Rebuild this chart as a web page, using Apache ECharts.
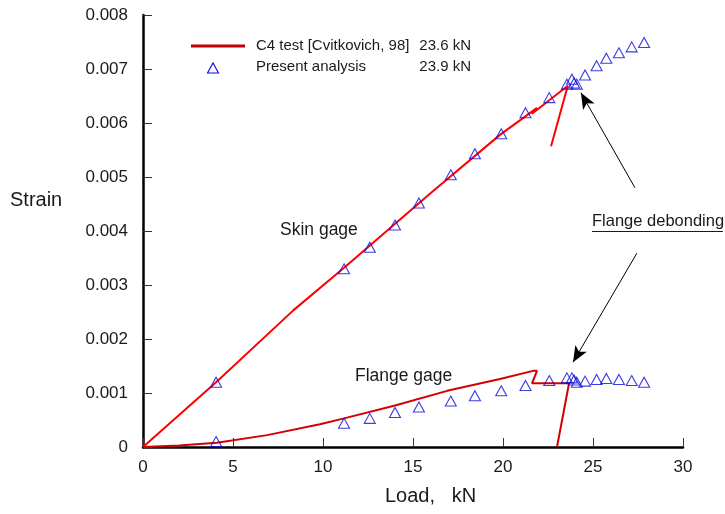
<!DOCTYPE html>
<html>
<head>
<meta charset="utf-8">
<script src="https://cdn.jsdelivr.net/npm/echarts@6/dist/echarts.min.js"></script>
<style>
  html, body { margin: 0; padding: 0; background: #ffffff; }
  #chart { width: 725px; height: 514px; }
</style>
</head>
<body>
<div id="chart"></div>
<script>
// Axis ticks
const loadTicks = [0, 5, 10, 15, 20, 25, 30];
const strainTicks = [0, 0.001, 0.002, 0.003, 0.004, 0.005, 0.006, 0.007, 0.008];

// C4 test [Cvitkovich, 98] - skin gage record
const skinTestLoad   = [0, 4.06, 8.35, 11.17, 15.94, 19.83, 21.89, 21.61, 23.6, 22.67];
const skinTestStrain = [0, 0.0012, 0.00253, 0.00332, 0.00469, 0.00578, 0.00628, 0.00617, 0.00669, 0.00557];

// C4 test [Cvitkovich, 98] - flange gage record
const flangeTestLoad   = [0, 2.0, 4.1, 6.9, 9.83, 11.17, 14.0, 16.9, 19.83, 21.67, 21.89, 21.61, 23.67, 23.0];
const flangeTestStrain = [0, 0.00003, 0.00008, 0.00022, 0.00042, 0.00053, 0.00077, 0.00104, 0.00126, 0.00141, 0.00141, 0.00118, 0.00118, 0];

// Present analysis (23.9 kN)
const analysisLoad   = [4.06, 11.17, 12.6, 14.0, 15.33, 17.1, 18.44, 19.9, 21.25, 22.57, 23.55, 23.83, 23.95, 24.1, 24.56, 25.2, 25.74, 26.44, 27.15, 27.84];
const skinAnalysis   = [0.0012, 0.0033, 0.0037, 0.00411, 0.00452, 0.00504, 0.00543, 0.0058, 0.00619, 0.00647, 0.00672, 0.00681, 0.00674, 0.00672, 0.00689, 0.00706, 0.0072, 0.0073, 0.00741, 0.00749];
const flangeAnalysis = [0.0001, 0.00044, 0.00053, 0.00064, 0.00074, 0.00085, 0.00095, 0.00104, 0.00114, 0.00123, 0.00128, 0.00128, 0.00124, 0.0012, 0.00122, 0.00125, 0.00127, 0.00125, 0.00123, 0.0012];

// Arrow annotations [fromLoad, fromStrain, toLoad, toStrain]
const skinArrow   = [27.33, 0.0048, 24.33, 0.00656];
const flangeArrow = [27.44, 0.00359, 23.89, 0.00157];

const FONT = '"Liberation Sans", Arial, sans-serif';
const TEXT = '#1a1a1a';
const zip = (xs, ys) => xs.map((x, i) => [x, ys[i]]);

const chart = echarts.init(document.getElementById('chart'), null, { renderer: 'canvas' });

const markerStyle = {
  symbol: 'triangle',
  symbolSize: [11, 10],
  itemStyle: { color: 'rgba(0,0,0,0)', borderColor: '#0c0cdc', borderWidth: 1.1 }
};

chart.setOption({
  animation: false,
  backgroundColor: '#ffffff',
  grid: { left: 143, right: 42, top: 15, bottom: 67, outerBoundsMode: 'none', containLabel: false },
  xAxis: {
    type: 'value',
    min: loadTicks[0],
    max: loadTicks[loadTicks.length - 1],
    interval: 5,
    axisLine: { lineStyle: { color: '#000', width: 2.5 } },
    axisTick: { inside: true, length: 9, lineStyle: { color: '#333', width: 1 } },
    axisLabel: { fontFamily: FONT, fontSize: 17, color: TEXT, margin: 12 },
    splitLine: { show: false }
  },
  yAxis: {
    type: 'value',
    min: strainTicks[0],
    max: strainTicks[strainTicks.length - 1],
    interval: 0.001,
    axisLine: { lineStyle: { color: '#000', width: 2.5 } },
    axisTick: { inside: true, length: 9, lineStyle: { color: '#333', width: 1 } },
    axisLabel: {
      fontFamily: FONT, fontSize: 17, color: TEXT, margin: 15,
      formatter: v => (v === 0 ? '0' : v.toFixed(3))
    },
    splitLine: { show: false }
  },
  series: [
    {
      name: 'C4 test skin',
      type: 'line',
      data: zip(skinTestLoad, skinTestStrain),
      showSymbol: false,
      lineStyle: { color: '#ff0000', width: 2 },
      z: 2,
      markLine: {
        silent: true,
        symbol: ['none', 'arrow'],
        symbolSize: [10, 16],
        label: { show: false },
        lineStyle: { color: '#000', width: 1, type: 'solid' },
        itemStyle: { color: '#000' },
        data: [
          [{ coord: [skinArrow[0], skinArrow[1]] }, { coord: [skinArrow[2], skinArrow[3]] }],
          [{ coord: [flangeArrow[0], flangeArrow[1]] }, { coord: [flangeArrow[2], flangeArrow[3]] }]
        ]
      }
    },
    {
      name: 'C4 test flange',
      type: 'line',
      data: zip(flangeTestLoad, flangeTestStrain),
      showSymbol: false,
      lineStyle: { color: '#d40000', width: 2 },
      z: 2
    },
    Object.assign({ name: 'Present analysis skin', type: 'scatter', data: zip(analysisLoad, skinAnalysis), z: 3 }, markerStyle),
    Object.assign({ name: 'Present analysis flange', type: 'scatter', data: zip(analysisLoad, flangeAnalysis), z: 3 }, markerStyle)
  ],
  graphic: [
    // legend
    { type: 'line', shape: { x1: 191, y1: 46, x2: 245, y2: 46 }, style: { stroke: '#c00000', lineWidth: 3 } },
    { type: 'text', left: 256, top: 38, style: { text: 'C4 test [Cvitkovich, 98]', font: '15px ' + FONT, fill: TEXT } },
    { type: 'text', right: 254, top: 38, style: { text: '23.6 kN', font: '15px ' + FONT, fill: TEXT, align: 'right' } },
    { type: 'polygon', shape: { points: [[207.5, 73], [218.5, 73], [213, 63]] }, style: { fill: 'none', stroke: '#0c0cdc', lineWidth: 1.1 } },
    { type: 'text', left: 256, top: 59, style: { text: 'Present analysis', font: '15px ' + FONT, fill: TEXT } },
    { type: 'text', right: 254, top: 59, style: { text: '23.9 kN', font: '15px ' + FONT, fill: TEXT, align: 'right' } },
    // axis titles
    { type: 'text', left: 10, top: 190, style: { text: 'Strain', font: '20px ' + FONT, fill: TEXT } },
    { type: 'text', left: 385, top: 486, style: { text: 'Load,   kN', font: '20px ' + FONT, fill: TEXT } },
    // curve labels
    { type: 'text', left: 280, top: 221, style: { text: 'Skin gage', font: '17.5px ' + FONT, fill: TEXT } },
    { type: 'text', left: 355, top: 367, style: { text: 'Flange gage', font: '17.5px ' + FONT, fill: TEXT } },
    { type: 'text', left: 592, top: 213, style: { text: 'Flange debonding', font: '16.5px ' + FONT, fill: TEXT } },
    { type: 'line', shape: { x1: 592, y1: 231.5, x2: 723, y2: 231.5 }, style: { stroke: TEXT, lineWidth: 1 } }
  ]
});
</script>
</body>
</html>
